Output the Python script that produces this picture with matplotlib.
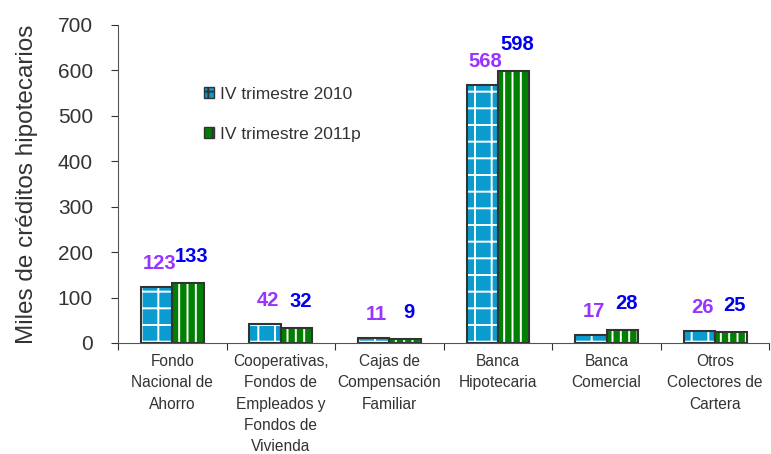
import numpy as np
import matplotlib.pyplot as plt
from matplotlib.patches import Patch

categorias = ["Fondo\nNacional de\nAhorro",
              "Cooperativas,\nFondos de\nEmpleados y\nFondos de\nVivienda",
              "Cajas de\nCompensación\nFamiliar",
              "Banca\nHipotecaria",
              "Banca\nComercial",
              "Otros\nColectores de\nCartera"]
trim_2010 = [123, 42, 11, 568, 17, 26]
trim_2011 = [133, 32, 9, 598, 28, 25]
series = ["IV trimestre 2010", "IV trimestre 2011p"]

AZUL = "#0a9ccf"
VERDE = "#008000"
BORDE = "#333333"

plt.rcParams["font.family"] = ["Liberation Sans", "DejaVu Sans"]
plt.rcParams["hatch.linewidth"] = 1.4

fig = plt.figure(figsize=(7.71, 4.54), dpi=100)
ax = fig.add_axes([0.153, 0.2445, 0.845, 0.7005])

x = np.arange(len(categorias))
w = 0.29

# relleno con tramado blanco, luego el borde
ax.bar(x - w / 2, trim_2010, w, color=AZUL, edgecolor="white", hatch="+", lw=0)
ax.bar(x + w / 2, trim_2011, w, color=VERDE, edgecolor="white", hatch="||", lw=0)
ax.bar(x - w / 2, trim_2010, w, fill=False, edgecolor=BORDE, lw=1.5)
ax.bar(x + w / 2, trim_2011, w, fill=False, edgecolor=BORDE, lw=1.5)

for i in range(len(x)):
    ax.annotate(str(trim_2010[i]), (x[i] - w / 2, trim_2010[i]), xytext=(3, 14),
                textcoords="offset pixels", ha="center", va="bottom",
                color="#9933ff", fontsize=14.5, fontweight="bold")
    ax.annotate(str(trim_2011[i]), (x[i] + w / 2, trim_2011[i]), xytext=(4, 17),
                textcoords="offset pixels", ha="center", va="bottom",
                color="#0000ee", fontsize=14.5, fontweight="bold")

ax.set_xlim(-0.5, len(categorias) - 0.5)
ax.set_ylim(0, 700)
ax.set_yticks(range(0, 701, 100))
ax.tick_params(axis="y", labelsize=15, colors="#333333", length=5, pad=13)

ax.set_xticks(np.arange(len(categorias) + 1) - 0.5)
ax.set_xticklabels([])
ax.set_xticks(x, categorias, minor=True)
ax.tick_params(axis="x", which="major", length=5, colors="#333333")
ax.tick_params(axis="x", which="minor", length=0, pad=8, labelsize=11.2,
               labelcolor="#333333")
for t in ax.get_xticklabels(minor=True):
    t.set_linespacing(1.52)

ax.spines["top"].set_visible(False)
ax.spines["right"].set_visible(False)
ax.spines["left"].set_color("#555555")
ax.spines["bottom"].set_color("#555555")

ax.set_ylabel("Miles de créditos hipotecarios", fontsize=17.5, color="#333333",
              labelpad=14)

handles = [Patch(facecolor=AZUL, edgecolor=BORDE, hatch="+"),
           Patch(facecolor=VERDE, edgecolor=BORDE, hatch="||")]
leg = ax.legend(handles, series, loc="upper left", bbox_to_anchor=(0.108, 0.855),
                frameon=False, handlelength=0.6, handleheight=0.6,
                handletextpad=0.3, labelspacing=1.45, fontsize=12.5)
for t in leg.get_texts():
    t.set_color("#333333")

fig.savefig("out.png", dpi=100)
